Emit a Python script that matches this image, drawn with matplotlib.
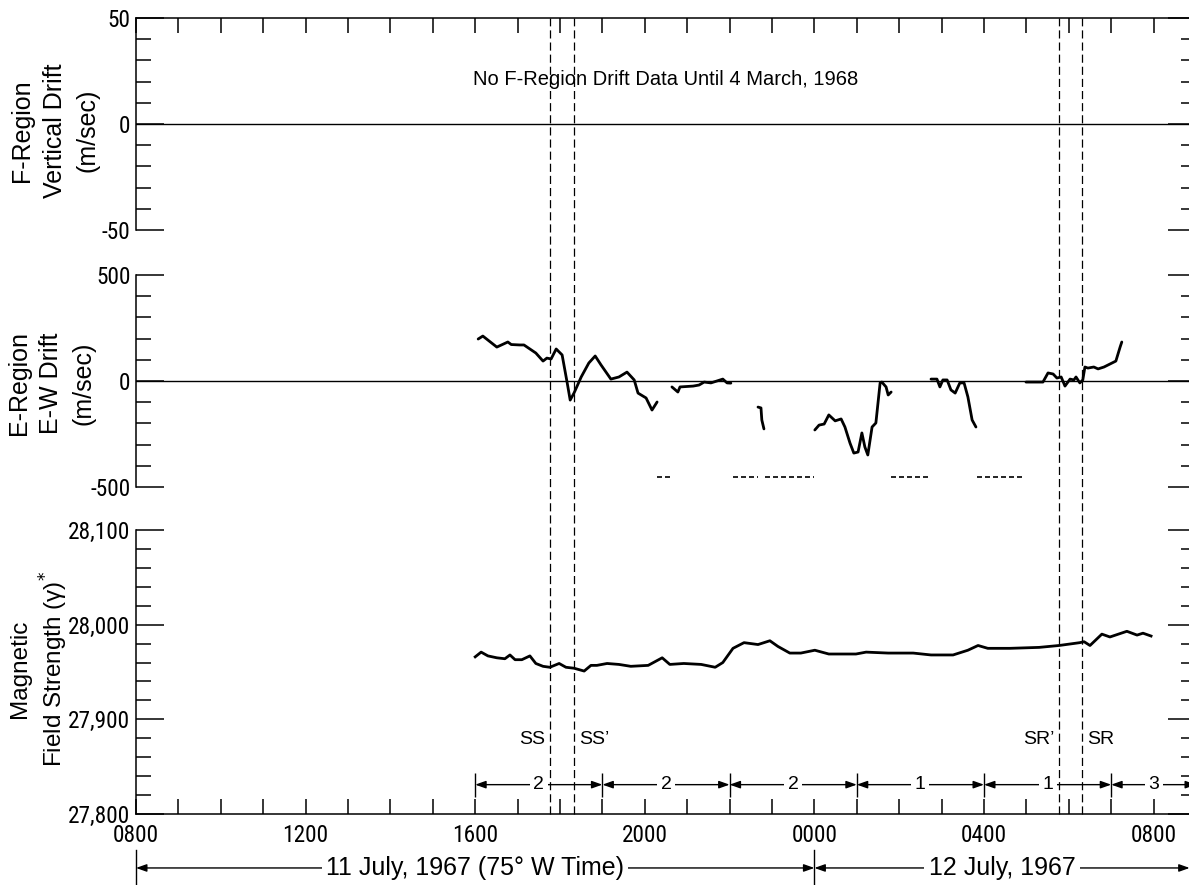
import matplotlib
matplotlib.use('Agg')
import matplotlib.pyplot as plt
from matplotlib import font_manager as fm
from matplotlib.font_manager import FontProperties
from matplotlib.ticker import MultipleLocator, FixedLocator, FixedFormatter
from matplotlib.transforms import blended_transform_factory
from matplotlib.lines import Line2D

plt.rcParams['axes.unicode_minus'] = False

# ---------------- data (time in hours after 0800, 11 July 1967, 75 W time) ----------------
hour_ticks = [0, 4, 8, 12, 16, 20, 24]
hour_labels = ['0800', '1200', '1600', '2000', '0000', '0400', '0800']

f_ticks = [-50, 0, 50]
f_labels = ['-50', '0', '50']
e_ticks = [-500, 0, 500]
e_labels = ['-500', '0', '500']
m_ticks = [27800, 27900, 28000, 28100]
m_labels = ['27,800', '27,900', '28,000', '28,100']

# E-region E-W drift (m/sec), separate data segments
ew_t1 = [8.07, 8.18, 8.51, 8.77, 8.85, 9.05, 9.15, 9.43, 9.60, 9.69, 9.79, 9.91, 10.05, 10.17,
         10.24, 10.33, 10.50, 10.68, 10.83, 10.97, 11.20, 11.39, 11.58, 11.75, 11.84, 12.03,
         12.17, 12.29]
ew_v1 = [198, 212, 160, 184, 172, 170, 170, 132, 94, 108, 104, 151, 123, -9,
         -90, -57, 19, 85, 118, 75, 9, 19, 42, 5, -57, -80,
         -137, -99]
ew_t2 = [12.64, 12.78, 12.83, 13.14, 13.28, 13.40, 13.56, 13.70, 13.84, 13.94, 14.03]
ew_v2 = [-28, -52, -28, -24, -19, -5, -9, 0, 9, -9, -10]
ew_t3 = [14.67, 14.74, 14.76, 14.81]
ew_v3 = [-123, -127, -184, -226]
ew_t4 = [16.01, 16.11, 16.23, 16.34, 16.49, 16.63, 16.72, 16.84, 16.93, 17.03, 17.12, 17.19,
         17.26, 17.36, 17.45, 17.55, 17.59, 17.69, 17.74, 17.81]
ew_v4 = [-231, -208, -203, -160, -188, -179, -217, -293, -340, -335, -245, -311,
         -349, -217, -198, -9, -5, -28, -66, -52]
ew_t5 = [18.75, 18.89, 18.96, 19.03, 19.13, 19.22, 19.32, 19.43, 19.53, 19.62, 19.72, 19.81]
ew_v5 = [9, 9, -28, 5, 5, -42, -57, -9, -9, -75, -184, -217]
ew_t6 = [20.99, 21.30, 21.39, 21.51, 21.63, 21.72, 21.82, 21.91, 22.03, 22.12, 22.17, 22.26,
         22.33, 22.38, 22.45, 22.59, 22.69, 22.83, 23.02, 23.11, 23.21, 23.25]
ew_v6 = [-5, -5, -5, 38, 33, 14, 19, -24, 9, 5, 19, -9,
         5, 66, 61, 66, 57, 66, 85, 94, 160, 184]

# dashed markers of data gaps (drawn near -450 m/sec)
gap_start = [12.29, 14.08, 14.83, 17.81, 19.83]
gap_end = [12.62, 14.67, 15.99, 18.75, 20.96]
gap_level = -453

# magnetic field strength (gamma)
mag_t = [8.00, 8.14, 8.30, 8.51, 8.70, 8.82, 8.94, 9.10, 9.29, 9.43, 9.60, 9.76, 9.98, 10.14,
         10.33, 10.57, 10.73, 10.87, 11.11, 11.39, 11.67, 12.08, 12.41, 12.59, 12.92, 13.33,
         13.66, 13.84, 14.08, 14.34, 14.67, 14.95, 15.14, 15.42, 15.68, 16.01, 16.34, 16.98,
         17.22, 17.74, 18.33, 18.75, 19.27, 19.62, 19.86, 20.09, 20.61, 21.30, 21.77, 22.26,
         22.36, 22.50, 22.78, 22.97, 23.37, 23.61, 23.75, 23.94]
mag_v = [27966, 27971, 27967, 27965, 27964, 27968, 27963, 27963, 27967, 27959, 27956, 27955,
         27959, 27955, 27954, 27951, 27957, 27957, 27959, 27958, 27956, 27957, 27965, 27958,
         27959, 27958, 27955, 27960, 27975, 27981, 27979, 27983, 27977, 27970, 27970, 27973,
         27969, 27969, 27971, 27970, 27970, 27968, 27968, 27973, 27978, 27975, 27975, 27976,
         27978, 27981, 27982, 27978, 27990, 27987, 27993, 27989, 27991, 27988]

# sunset / sunrise times (E and F region)
sun_times = [9.76, 10.33, 21.76, 22.31]
sun_labels = ['SS', 'SS\u2019', 'SR\u2019', 'SR']
sun_side = ['left', 'right', 'left', 'right']

# 3-hour Kp values
kp_start = [8, 11, 14, 17, 20, 23]
kp_end = [11, 14, 17, 20, 23, 25]
kp_values = ['2', '2', '2', '1', '1', '3']

# date spans
date_start = [0, 16]
date_end = [16, 24.85]
date_labels = ['11 July, 1967 (75\u00b0 W Time)', '12 July, 1967']

# ---------------- fonts ----------------
text_font = ['Liberation Sans', 'DejaVu Sans']


def pick_narrow_font():
    entries = fm.fontManager.ttflist
    prefs = [('Liberation Sans Narrow', 17.0), ('Roboto Condensed', 16.8),
             ('Open Sans Condensed', 16.5), ('Noto Sans Condensed', 16.0),
             ('DejaVu Sans Condensed', 15.0)]
    for name, size in prefs:
        for f in entries:
            if f.name == name and f.style == 'normal' and f.weight in (400, 'normal', 'regular'):
                return FontProperties(fname=f.fname, size=size)
    for f in entries:
        st = f.stretch
        cond = (isinstance(st, str) and 'condensed' in st) or \
               (isinstance(st, (int, float)) and st < 500)
        if f.name == 'DejaVu Sans' and cond and f.style == 'normal' and \
                f.weight in (400, 'normal', 'regular'):
            return FontProperties(fname=f.fname, size=15.0)
    for f in entries:
        if ('Narrow' in f.name or 'Condensed' in f.name) and f.style == 'normal':
            return FontProperties(fname=f.fname, size=15.5)
    return FontProperties(family=text_font, size=13.0)


tick_fp = pick_narrow_font()

# ---------------- figure ----------------
W, H = 1189, 885
fig = plt.figure(figsize=(W / 100, H / 100), dpi=100)


def rect(l, t, r, b):
    return [l / W, 1 - b / H, (r - l) / W, (b - t) / H]


ax_f = fig.add_axes(rect(136, 18, 1196, 230))
ax_e = fig.add_axes(rect(136, 275, 1196, 487))
ax_m = fig.add_axes(rect(136, 530, 1196, 814))

LW = 1.1

for ax in (ax_f, ax_e, ax_m):
    ax.set_xlim(0, 25)
    for s in ax.spines.values():
        s.set_linewidth(LW)
    ax.yaxis.set_ticks_position('both')
    ax.tick_params(axis='y', which='major', direction='in', length=20, width=LW, pad=4)
    ax.tick_params(axis='y', which='minor', direction='in', length=10.5, width=LW)

# top panel
ax_f.set_ylim(-50, 50)
ax_f.yaxis.set_major_locator(FixedLocator(f_ticks))
ax_f.yaxis.set_major_formatter(FixedFormatter(f_labels))
ax_f.yaxis.set_minor_locator(MultipleLocator(10))
ax_f.spines['bottom'].set_visible(False)
ax_f.xaxis.set_ticks_position('top')
ax_f.xaxis.set_major_locator(MultipleLocator(1))
ax_f.tick_params(axis='x', which='both', direction='in', length=10.5, width=LW,
                 labeltop=False, labelbottom=False)
ax_f.axhline(0, color='black', lw=1.0)

# middle panel
ax_e.set_ylim(-500, 500)
ax_e.yaxis.set_major_locator(FixedLocator(e_ticks))
ax_e.yaxis.set_major_formatter(FixedFormatter(e_labels))
ax_e.yaxis.set_minor_locator(MultipleLocator(100))
ax_e.spines['bottom'].set_visible(False)
ax_e.spines['top'].set_visible(False)
ax_e.tick_params(axis='x', which='both', bottom=False, top=False,
                 labelbottom=False, labeltop=False)
ax_e.axhline(0, color='black', lw=1.0)

# bottom panel
ax_m.set_ylim(27800, 28100)
ax_m.yaxis.set_major_locator(FixedLocator(m_ticks))
ax_m.yaxis.set_major_formatter(FixedFormatter(m_labels))
ax_m.yaxis.set_minor_locator(MultipleLocator(20))
ax_m.spines['top'].set_visible(False)
ax_m.xaxis.set_ticks_position('bottom')
ax_m.xaxis.set_major_locator(FixedLocator(hour_ticks))
ax_m.xaxis.set_major_formatter(FixedFormatter(hour_labels))
ax_m.xaxis.set_minor_locator(MultipleLocator(1))
ax_m.tick_params(axis='x', which='both', direction='in', length=10.5, width=LW, pad=7)

for ax in (ax_f, ax_e, ax_m):
    for lab in ax.get_yticklabels() + ax.get_xticklabels():
        lab.set_fontproperties(tick_fp)

# y labels
ax_f.set_ylabel('F-Region\nVertical Drift\n(m/sec)', fontsize=18, family=text_font,
                linespacing=1.45, ha='center', va='center')
ax_f.yaxis.set_label_coords(-0.0765, 0.47)
ax_e.set_ylabel('E-Region\nE-W Drift\n(m/sec)', fontsize=18, family=text_font,
                linespacing=1.45, ha='center', va='center')
ax_e.yaxis.set_label_coords(-0.080, 0.49)
ax_m.set_ylabel('Magnetic\nField Strength (\u03b3)$^{*}$', fontsize=17.5, family=text_font,
                linespacing=1.3, ha='center', va='center')
ax_m.yaxis.set_label_coords(-0.091, 0.51)

# F region note
ax_f.text(12.5, 21, 'No F-Region Drift Data Until 4 March, 1968', ha='center', va='center',
          fontsize=14.5, family=text_font)

# E region drift curves
for t, v in ((ew_t1, ew_v1), (ew_t2, ew_v2), (ew_t3, ew_v3), (ew_t4, ew_v4),
             (ew_t5, ew_v5), (ew_t6, ew_v6)):
    ax_e.plot(t, v, color='black', lw=2.0, solid_capstyle='round', solid_joinstyle='round')
for a, b in zip(gap_start, gap_end):
    ax_e.plot([a, b], [gap_level, gap_level], color='black', lw=1.2,
              dashes=(3.0, 1.8))

# magnetic field curve
ax_m.plot(mag_t, mag_v, color='black', lw=2.0, solid_joinstyle='round')

# sunrise / sunset dashed lines across all panels
bt = blended_transform_factory(ax_m.transData, fig.transFigure)
for x in sun_times:
    fig.add_artist(Line2D([x, x], [1 - 814 / H, 1 - 18 / H], transform=bt, color='black',
                          lw=0.9, dashes=(6.5, 3.2)))
for x, lab, side in zip(sun_times, sun_labels, sun_side):
    if side == 'left':
        ax_m.text(x - 0.1, 27879, lab, ha='right', va='center', fontsize=14, family=text_font)
    else:
        ax_m.text(x + 0.12, 27879, lab, ha='left', va='center', fontsize=14, family=text_font)

# Kp bars
kp_y = 27831
for a, b, k in zip(kp_start, kp_end, kp_values):
    ax_m.annotate('', xy=(a, kp_y), xytext=(b, kp_y),
                  arrowprops=dict(arrowstyle='<|-|>,head_length=0.45,head_width=0.16',
                                  lw=1.0, color='black', shrinkA=0, shrinkB=0,
                                  mutation_scale=14))
    ax_m.text((a + b) / 2 if b < 25 else 24, kp_y, k, ha='center', va='center', fontsize=14,
              family=text_font, zorder=5,
              bbox=dict(facecolor='white', edgecolor='none', pad=2.5))
ax_m.vlines(kp_start, 27818, 27843, color='black', lw=1.0)

# date spans below the time axis
ya = -0.19
bta = blended_transform_factory(ax_m.transData, ax_m.transAxes)
for a, b, lab in zip(date_start, date_end, date_labels):
    ax_m.annotate('', xy=(a, ya), xytext=(b, ya), xycoords=bta, textcoords=bta,
                  arrowprops=dict(arrowstyle='<|-|>,head_length=0.45,head_width=0.16',
                                  lw=1.0, color='black', shrinkA=0, shrinkB=0,
                                  mutation_scale=14), annotation_clip=False)
    ax_m.text((a + b) / 2, ya, lab, transform=bta, ha='center', va='center', fontsize=18,
              family=text_font, zorder=5, clip_on=False,
              bbox=dict(facecolor='white', edgecolor='none', pad=3))
for x in date_start:
    ax_m.add_line(Line2D([x, x], [-0.125, -0.26], transform=bta, color='black', lw=1.0,
                         clip_on=False))

fig.savefig('out.png', dpi=100)
